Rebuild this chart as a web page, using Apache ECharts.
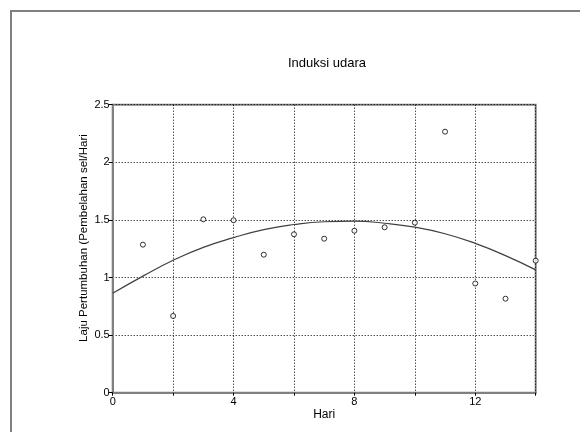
<!DOCTYPE html>
<html>
<head>
<meta charset="utf-8">
<script src="https://cdn.jsdelivr.net/npm/echarts@6/dist/echarts.min.js"></script>
<style>
  html, body { margin: 0; padding: 0; background: #fff; }
  #chart { width: 580px; height: 432px; }
</style>
</head>
<body>
<div id="chart"></div>
<script>
// observed points (Hari 1..14)
const dayPoints = [1, 2, 3, 4, 5, 6, 7, 8, 9, 10, 11, 12, 13, 14]
const ratePoints = [1.285, 0.666, 1.505, 1.497, 1.198, 1.375, 1.337, 1.406, 1.436, 1.476, 2.266, 0.948, 0.816, 1.146]

// fitted curve
const curveDays = [0, 1, 2, 3, 4, 5, 6, 7, 8, 9, 10, 11, 12, 13, 14]
const curveRates = [0.863, 1.012, 1.15, 1.262, 1.346, 1.416, 1.46, 1.484, 1.489, 1.471, 1.437, 1.38, 1.296, 1.19, 1.066]

const xLabels = [0, 4, 8, 12]
const yTitle = "Laju Pertumbuhan (Pembelahan sel/Hari"

const font = "Liberation Sans, Arial, sans-serif"
const chart = echarts.init(document.getElementById("chart"))

chart.setOption({
  animation: false,
  title: {
    text: "Induksi udara",
    left: 322,
    top: 52,
    textAlign: "center",
    textStyle: { fontFamily: font, fontSize: 13, fontWeight: "normal", color: "#000" }
  },
  graphic: [
    {
      type: "rect",
      shape: { x: 11, y: 11, width: 620, height: 480 },
      style: { fill: "none", stroke: "#808080", lineWidth: 2 },
      silent: true
    },
    {
      // y axis title, placed off-centre like the reference
      type: "text",
      x: 84, y: 238,
      rotation: Math.PI / 2,
      style: {
        text: yTitle, fill: "#000",
        font: "11.5px " + font,
        align: "center", verticalAlign: "middle"
      },
      silent: true
    }
  ],
  grid: {
    left: 112.7, right: 44.3, top: 104.7, bottom: 39.3,
    show: true, borderColor: "#808080", borderWidth: 2, backgroundColor: "transparent"
  },
  xAxis: {
    type: "value",
    min: 0, max: 14, interval: 2,
    name: "Hari",
    nameLocation: "middle",
    nameGap: 16,
    nameMoveOverlap: false,
    nameTextStyle: { fontFamily: font, fontSize: 12, color: "#000" },
    axisLine: { lineStyle: { color: "#808080", width: 2 } },
    axisTick: { show: true, length: 3, lineStyle: { color: "#000" } },
    axisLabel: {
      fontFamily: font, fontSize: 11, color: "#000", margin: 4,
      formatter: v => xLabels.includes(v) ? String(v) : ""
    },
    splitLine: { show: true, lineStyle: { color: "#000", type: [1, 2], width: 1 } }
  },
  yAxis: {
    type: "value",
    min: 0, max: 2.5, interval: 0.5,
    axisLine: { lineStyle: { color: "#808080", width: 2 } },
    axisTick: { show: true, length: 4, lineStyle: { color: "#000" } },
    axisLabel: { fontFamily: font, fontSize: 11, color: "#000", margin: 3 },
    splitLine: { show: true, lineStyle: { color: "#000", type: [1, 2], width: 1 } }
  },
  series: [
    {
      type: "line",
      data: curveDays.map((d, i) => [d, curveRates[i]]),
      smooth: true,
      showSymbol: false,
      lineStyle: { color: "#404040", width: 1.2 },
      silent: true
    },
    {
      type: "scatter",
      data: dayPoints.map((d, i) => [d, ratePoints[i]]),
      symbol: "circle",
      symbolSize: 5,
      itemStyle: { color: "#fff", borderColor: "#000", borderWidth: 1 }
    }
  ]
})
</script>
</body>
</html>
